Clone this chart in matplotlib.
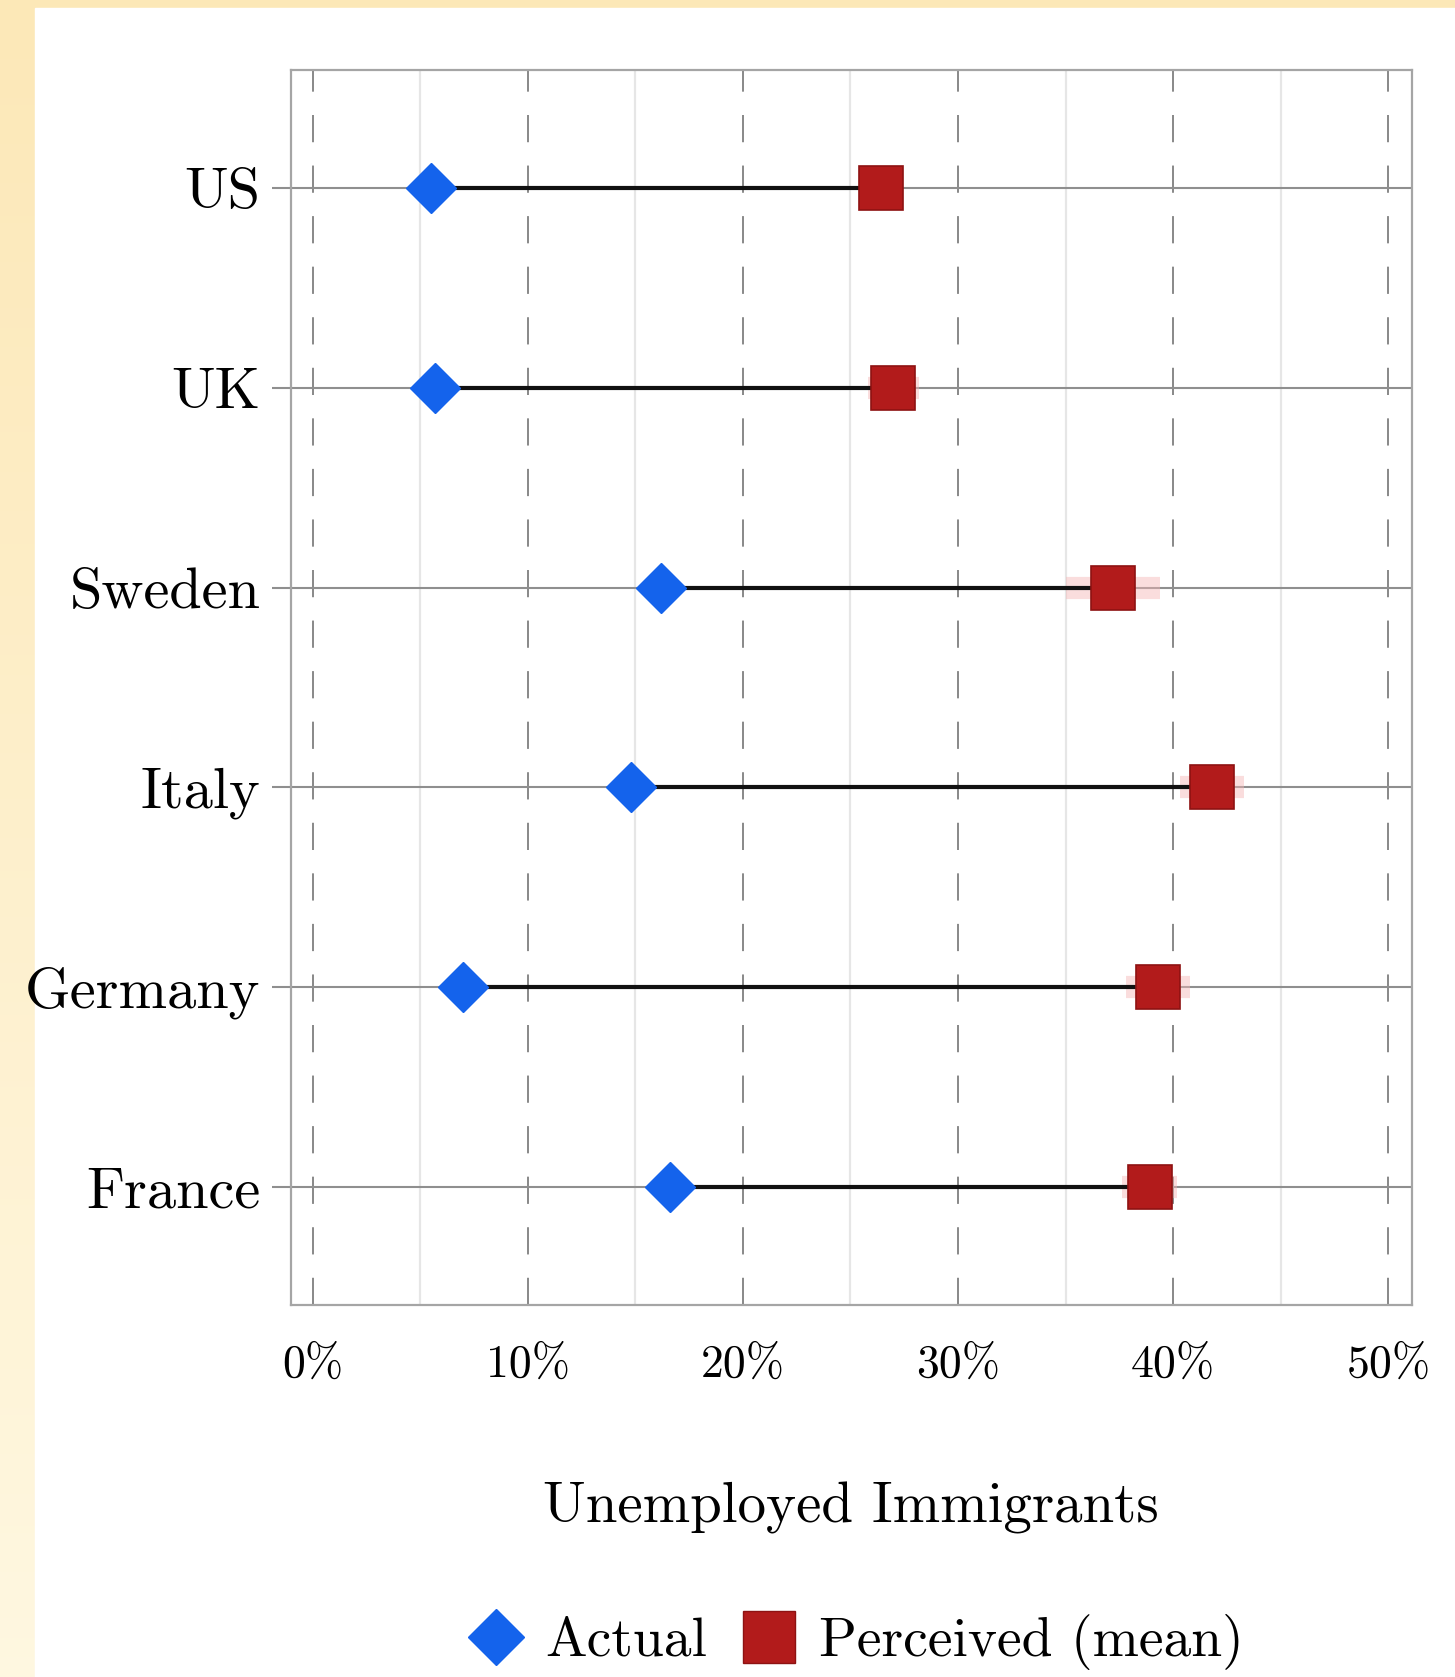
import numpy as np
import matplotlib
matplotlib.use("Agg")
import matplotlib.pyplot as plt
from matplotlib.ticker import FuncFormatter
from matplotlib.lines import Line2D

# data
countries = ["US", "UK", "Sweden", "Italy", "Germany", "France"]
actual = [5.5, 5.7, 16.2, 14.8, 7.0, 16.6]
perceived = [26.4, 27.0, 37.2, 41.8, 39.3, 38.9]
perceived_ci = [1.0, 1.2, 2.2, 1.5, 1.5, 1.3]
x_ticks = [0, 10, 20, 30, 40, 50]

plt.rcParams["font.family"] = "serif"
plt.rcParams["font.serif"] = ["cmr10", "DejaVu Serif"]
plt.rcParams["mathtext.fontset"] = "cm"
plt.rcParams["axes.unicode_minus"] = False

W, H = 1455, 1677
fig = plt.figure(figsize=(W / 100, H / 100), dpi=100)

# screenshot frame: pale yellow strip on the left and top
bg = fig.add_axes([0, 0, 1, 1], zorder=-10)
grad = np.linspace(0, 1, 256)[:, None]
top = np.array([0.99, 0.91, 0.72])
bot = np.array([1.0, 0.97, 0.88])
img = (top * (1 - grad) + bot * grad)[:, None, :]
bg.imshow(img, aspect="auto", extent=[0, 1, 0, 1], origin="upper")
bg.add_patch(plt.Rectangle((35 / W, 0), 1, 1 - 8 / H, color="white"))
bg.set_xlim(0, 1)
bg.set_ylim(0, 1)
bg.axis("off")

ax = fig.add_axes([291 / W, 1 - 1305 / H, (1412 - 291) / W, (1305 - 70) / H])
ax.set_facecolor("white")
y = np.arange(len(countries))

grid_gray = "#8f8f8f"
for v in np.arange(5, 50, 10):
    ax.axvline(v, color="#e6e6e6", lw=1.6, zorder=0)
for v in x_ticks:
    ax.axvline(v, color="#888888", lw=1.4, dashes=(14, 12), zorder=0.5)
for yy in y:
    ax.axhline(yy, color=grid_gray, lw=1.5, zorder=1)

ax.errorbar(perceived, y, xerr=perceived_ci, fmt="none", ecolor="#f5b5b5",
            elinewidth=16, alpha=0.45, zorder=2, capsize=0)
ax.hlines(y, actual, perceived, color="#111111", lw=3.0, zorder=3)
ax.plot(perceived, y, "s", ms=31, color="#b21b1b", mec="#8e1212", mew=1.2,
        ls="none", zorder=4)
ax.plot(actual, y, "D", ms=25, color="#1463ec", mec="#1463ec", ls="none",
        zorder=5)

ax.set_xlim(-1, 51.1)
ax.set_ylim(len(countries) - 1 + 0.59, -0.59)
ax.set_xticks(x_ticks)
ax.xaxis.set_major_formatter(FuncFormatter(lambda v, p: f"{int(v)}%"))
ax.set_yticks(y)
ax.set_yticklabels(countries)
ax.tick_params(axis="y", length=14, width=1.5, color=grid_gray,
               labelsize=42, pad=8)
ax.tick_params(axis="x", length=0, labelsize=33, pad=28)
for s in ax.spines.values():
    s.set_color("#a5a5a5")
    s.set_linewidth(1.6)

fig.text(0.585, 1 - 1508 / H, "Unemployed Immigrants", ha="center",
         va="center", fontsize=41)

handles = [
    Line2D([], [], marker="D", ls="none", ms=29, color="#1463ec"),
    Line2D([], [], marker="s", ls="none", ms=37, color="#b21b1b",
           mec="#8e1212"),
]
fig.legend(handles, ["Actual", "Perceived (mean)"], loc="center",
           bbox_to_anchor=(0.588, 1 - 1642 / H), ncol=2, frameon=False,
           fontsize=40, handletextpad=0.4, columnspacing=0.6,
           handlelength=1.0)

fig.savefig("out.png", dpi=100)
